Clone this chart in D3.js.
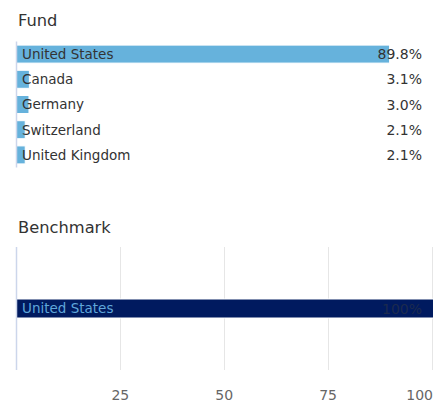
<!DOCTYPE html>
<html lang="en">
<head>
    <meta charset="UTF-8">
    <title>Fund vs Benchmark country allocation</title>
    <script src="https://d3js.org/d3.v7.min.js"></script>
    <style>
        body { margin: 0; background: #fff; }
        svg { font-family: "DejaVu Sans", sans-serif; }
        .title { font-size: 16.3px; fill: #333; }
        .cat { font-size: 13.5px; }
        .val { font-size: 14px; text-anchor: end; }
        .tick-label { font-size: 14px; fill: #666; }
    </style>
</head>
<body>
<svg width="433" height="403"></svg>
<script>
    // Fund country weights (%)
    const fundCountries = ["United States", "Canada", "Germany", "Switzerland", "United Kingdom"];
    const fundValues = [89.8, 3.1, 3.0, 2.1, 2.1];
    const fundLabels = ["89.8%", "3.1%", "3.0%", "2.1%", "2.1%"];

    // Benchmark country weights (%)
    const benchCountries = ["United States"];
    const benchValues = [100];
    const benchLabels = ["100%"];

    // x axis ticks shown under the benchmark panel
    const xTicks = [25, 50, 75, 100];

    const svg = d3.select("svg");

    // shared x scale
    const x = d3.scaleLinear().domain([0, 100]).range([16.5, 432]);

    // ---- Fund panel ----
    svg.append("text").attr("class", "title").attr("x", 18).attr("y", 26).text("Fund");

    const yFund = d3.scaleBand()
        .domain(fundCountries)
        .range([41.5, 167.5]);
    const fundBarH = 18;

    const fund = svg.append("g");
    fund.selectAll("rect")
        .data(fundCountries)
        .enter().append("rect")
        .attr("x", x(0))
        .attr("y", d => yFund(d) + yFund.bandwidth() / 2 - fundBarH / 2)
        .attr("width", (d, i) => x(fundValues[i]) - x(0))
        .attr("height", fundBarH)
        .attr("fill", "#66b2dc")
        .attr("stroke", "#fff")
        .attr("stroke-width", 1);

    fund.selectAll(".cat")
        .data(fundCountries)
        .enter().append("text")
        .attr("class", "cat")
        .attr("x", 22)
        .attr("y", d => yFund(d) + yFund.bandwidth() / 2)
        .attr("dy", "0.36em")
        .attr("fill", "#333")
        .text(d => d);

    fund.selectAll(".val")
        .data(fundCountries)
        .enter().append("text")
        .attr("class", "val")
        .attr("x", 422)
        .attr("y", d => yFund(d) + yFund.bandwidth() / 2)
        .attr("dy", "0.36em")
        .attr("fill", "#333")
        .text((d, i) => fundLabels[i]);

    fund.append("line")
        .attr("x1", 16.5).attr("x2", 16.5)
        .attr("y1", 41.5).attr("y2", 167.5)
        .attr("stroke", "#ccd6eb").attr("stroke-width", 1.5);

    // ---- Benchmark panel ----
    svg.append("text").attr("class", "title").attr("x", 18).attr("y", 233).text("Benchmark");

    const yBench = d3.scaleBand()
        .domain(benchCountries)
        .range([247, 370]);
    const benchBarH = 19;

    const bench = svg.append("g");

    bench.selectAll(".grid")
        .data(xTicks)
        .enter().append("line")
        .attr("class", "grid")
        .attr("x1", d => Math.round(x(d)) + 0.5)
        .attr("x2", d => Math.round(x(d)) + 0.5)
        .attr("y1", 247).attr("y2", 370)
        .attr("stroke", "#e6e6e6").attr("stroke-width", 1);

    bench.selectAll("rect")
        .data(benchCountries)
        .enter().append("rect")
        .attr("x", x(0))
        .attr("y", d => yBench(d) + yBench.bandwidth() / 2 - benchBarH / 2)
        .attr("width", (d, i) => x(benchValues[i]) - x(0) + 2)
        .attr("height", benchBarH)
        .attr("fill", "#001a5f")
        .attr("stroke", "#fff")
        .attr("stroke-width", 1);

    bench.selectAll(".cat")
        .data(benchCountries)
        .enter().append("text")
        .attr("class", "cat")
        .attr("x", 22)
        .attr("y", d => yBench(d) + yBench.bandwidth() / 2)
        .attr("dy", "0.36em")
        .attr("fill", "#5fa6da")
        .text(d => d);

    bench.selectAll(".val")
        .data(benchCountries)
        .enter().append("text")
        .attr("class", "val")
        .attr("x", 422)
        .attr("y", d => yBench(d) + yBench.bandwidth() / 2)
        .attr("dy", "0.36em")
        .attr("fill", "#1c2a4e")
        .text((d, i) => benchLabels[i]);

    bench.append("line")
        .attr("x1", 16.5).attr("x2", 16.5)
        .attr("y1", 247).attr("y2", 370)
        .attr("stroke", "#ccd6eb").attr("stroke-width", 1.5);

    // x axis labels
    bench.selectAll(".tick-label")
        .data(xTicks)
        .enter().append("text")
        .attr("class", "tick-label")
        .attr("x", d => d === 100 ? 433 : x(d))
        .attr("y", 400)
        .attr("text-anchor", d => d === 100 ? "end" : "middle")
        .text(d => d);
</script>
</body>
</html>
